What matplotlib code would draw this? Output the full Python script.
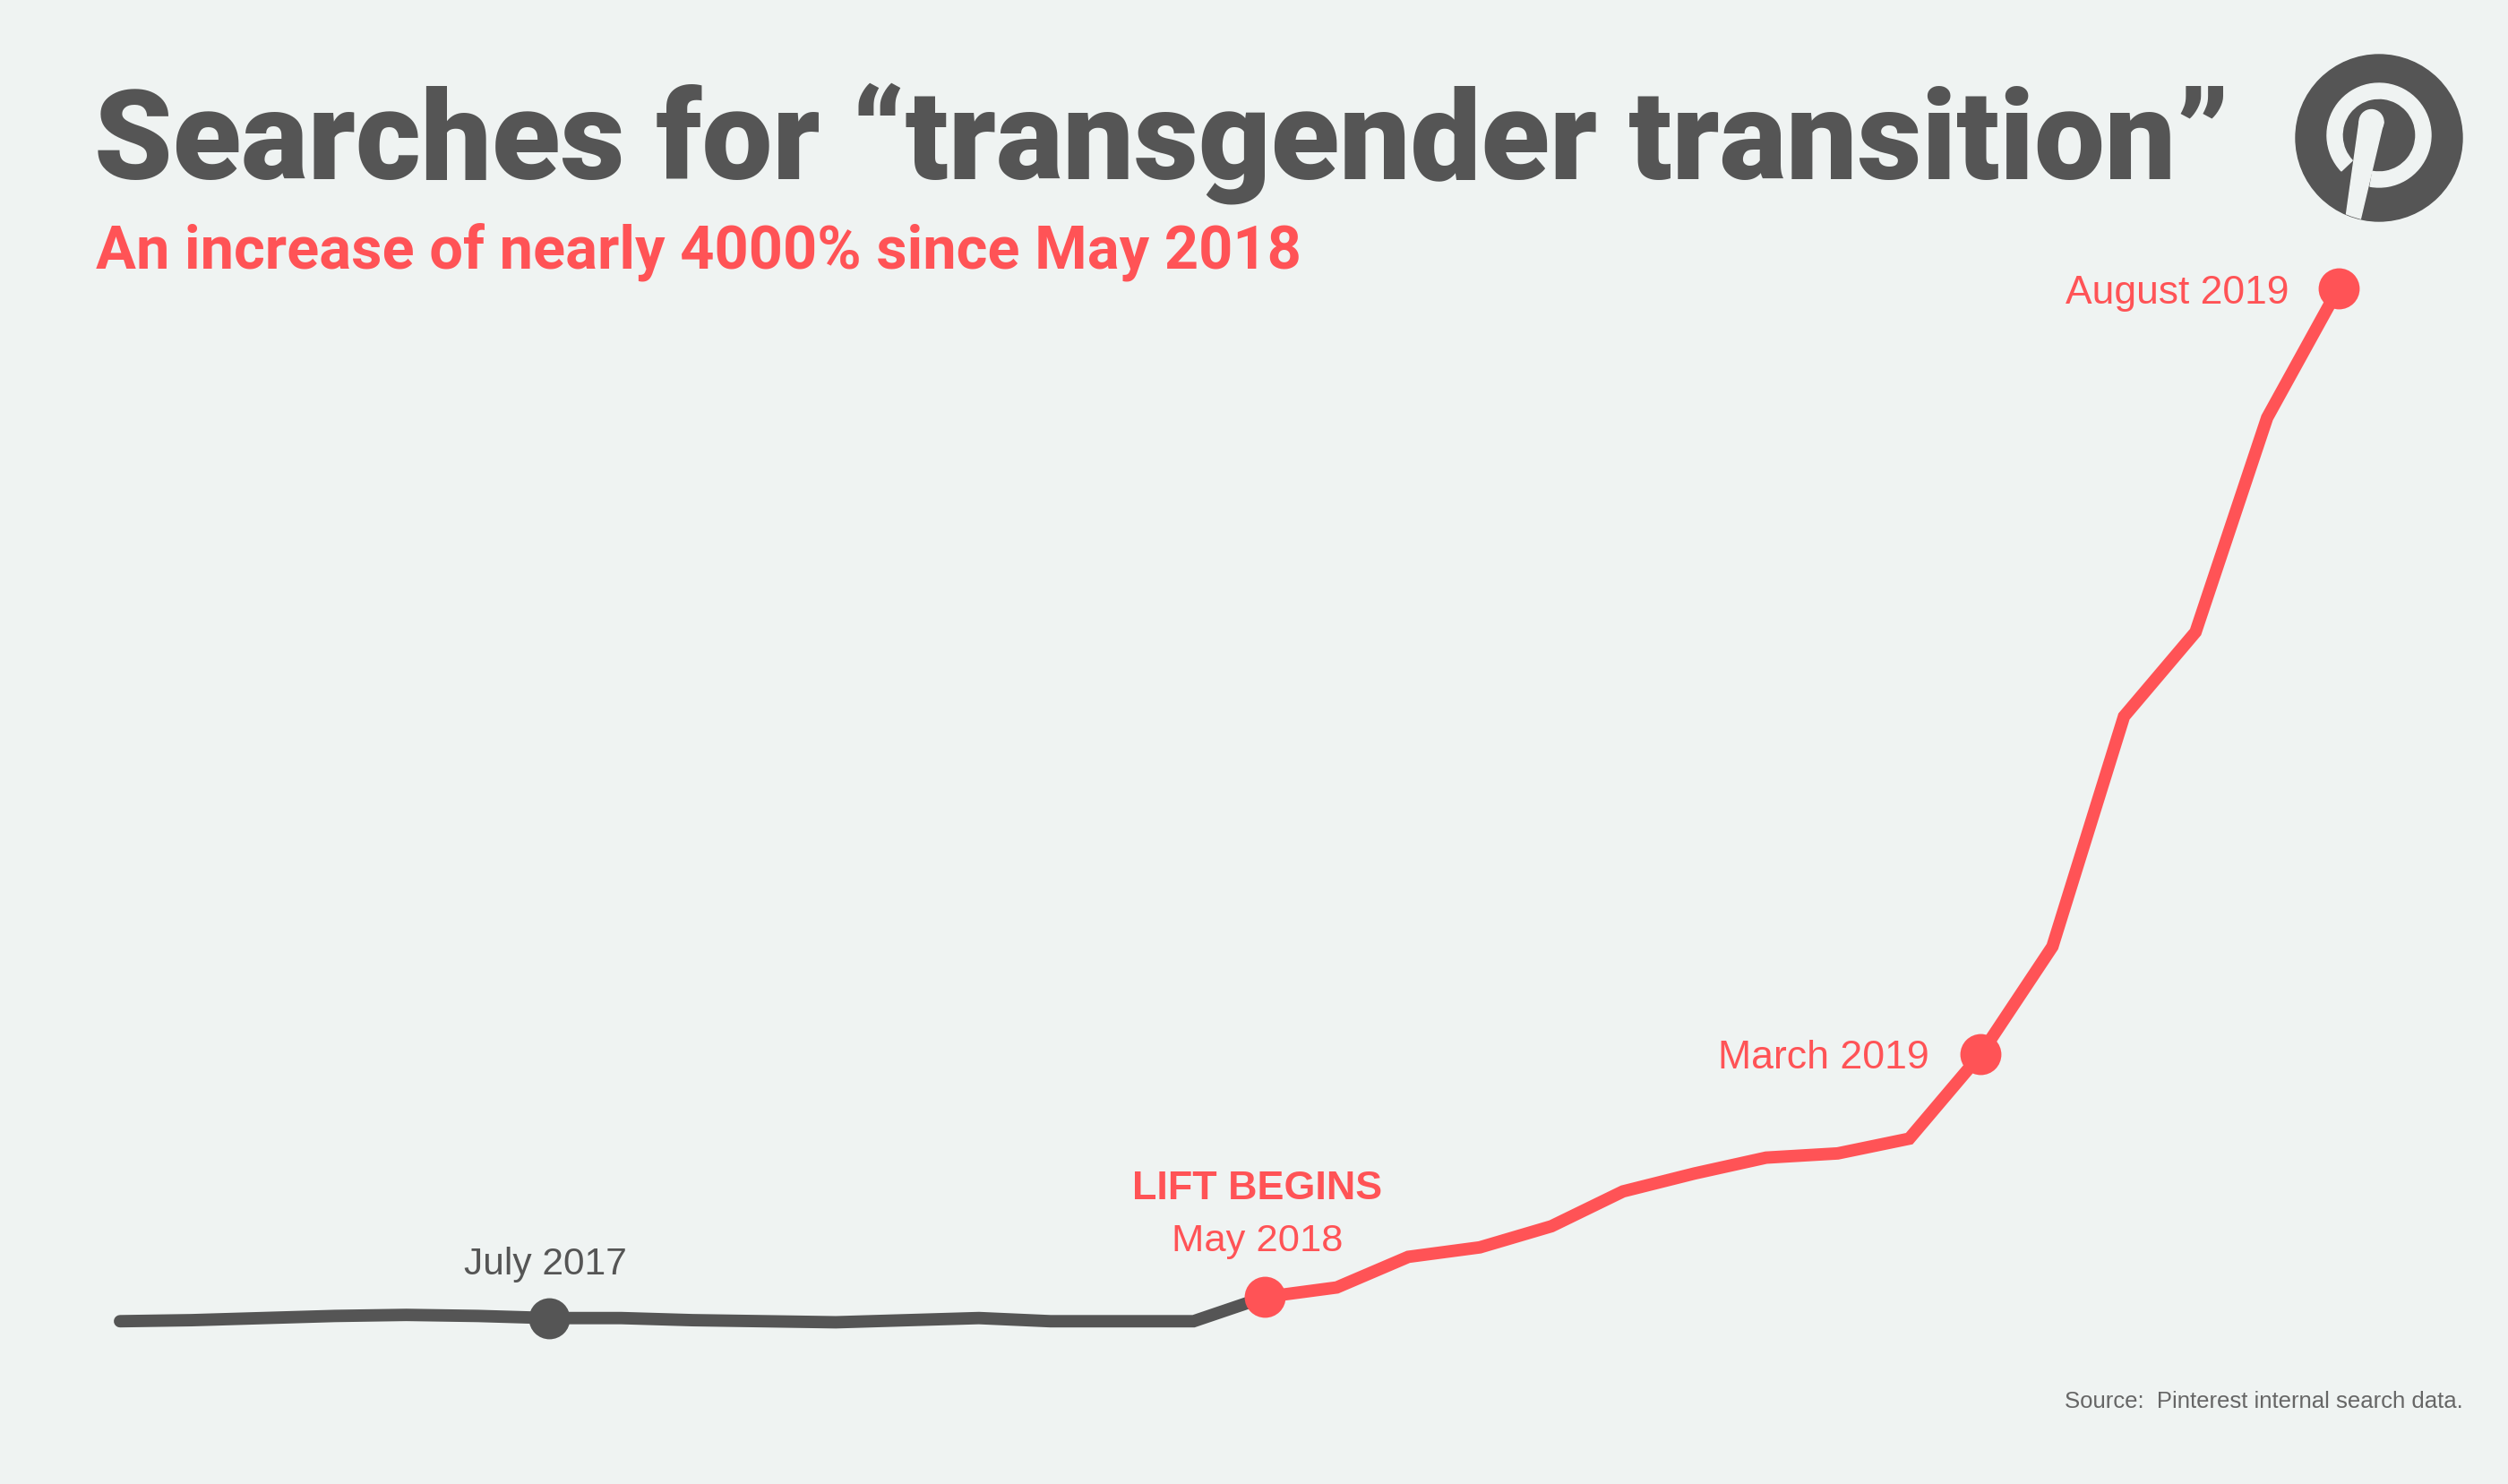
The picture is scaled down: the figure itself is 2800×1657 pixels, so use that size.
import matplotlib
matplotlib.use("Agg")
import matplotlib.pyplot as plt
from matplotlib.patches import Circle, Wedge, Polygon
import numpy as np
import pandas as pd

# monthly search index, Jan 2017 - Aug 2019 (Aug 2019 = 100)
months = pd.date_range("2017-01-01", "2019-08-01", freq="MS")
searches = [2.1, 2.2, 2.4, 2.6, 2.7, 2.6, 2.4, 2.4, 2.2, 2.1, 2.0, 2.2,
            2.4, 2.1, 2.1, 2.1,
            4.4, 5.3, 8.2, 9.1, 11.1, 14.4, 16.1, 17.6, 18.0, 19.4,
            27.4, 37.6, 59.4, 67.4, 87.7, 100.0]
lift_month = "2018-05"
marked = ["2017-07", "2018-05", "2019-03", "2019-08"]
marked_labels = ["July 2017", "May 2018", "March 2019", "August 2019"]

title = "Searches for \u201ctransgender transition\u201d"
subtitle = "An increase of nearly 4000% since May 2018"
source = "Source:  Pinterest internal search data."

BG = "#eff3f2"
GREY = "#555555"
RED = "#ff5356"

W, H = 2800, 1657
fig = plt.figure(figsize=(W / 100, H / 100), dpi=100)
fig.patch.set_facecolor(BG)

ax = fig.add_axes([0, 0, 1, 1])
ax.set_facecolor(BG)
ax.axis("off")

x = np.arange(len(months))
y = np.array(searches)
lift = months.get_loc(pd.Timestamp(lift_month))

ax.plot(x[:lift + 1], y[:lift + 1], color=GREY, lw=10,
        solid_capstyle="round", solid_joinstyle="miter", zorder=2)
ax.plot(x[lift:], y[lift:], color=RED, lw=10,
        solid_capstyle="round", solid_joinstyle="miter", zorder=3)

idx = [months.get_loc(pd.Timestamp(m)) for m in marked]
for i in idx:
    ax.plot(x[i], y[i], "o", ms=33, mec="none",
            color=GREY if i < lift else RED, zorder=4)

# place month 0 at px 134 and last month at px 2611, value 0 at px 1500, 100 at px 321
x0_px, x1_px = 134, 2611
sx = (x1_px - x0_px) / (len(months) - 1)
ax.set_xlim(-x0_px / sx, (W - x0_px) / sx)
v0_px, v100_px = 1500, 321.5
sy = (v0_px - v100_px) / 100
ax.set_ylim((v0_px - H) / sy, v0_px / sy)

# overlay in pixel coordinates for text and logo
ov = fig.add_axes([0, 0, 1, 1], facecolor="none")
ov.set_xlim(0, W)
ov.set_ylim(H, 0)
ov.axis("off")

renderer = fig.canvas.get_renderer()


def fit(t, width):
    w = t.get_window_extent(renderer).width
    t.set_fontsize(t.get_fontsize() * width / w)


t = ov.text(105, 200, title, fontsize=100, color=GREY, family="Roboto",
            fontweight="black", va="baseline")
fit(t, 2384)
t = ov.text(107, 300, subtitle, fontsize=40, color=RED, family="Roboto",
            fontweight="bold", va="baseline")
fit(t, 1343)

lab_font = "Liberation Sans"
t = ov.text(609, 1423, marked_labels[0], fontsize=34, color=GREY,
            family=lab_font, ha="center", va="baseline")
fit(t, 182)
t = ov.text(1404, 1339, "LIFT BEGINS", fontsize=34, color=RED,
            family=lab_font, fontweight="bold", ha="center", va="baseline")
fit(t, 279)
t = ov.text(1404, 1397, marked_labels[1], fontsize=34, color=RED,
            family=lab_font, ha="center", va="baseline")
fit(t, 191)
t = ov.text(2154, 1193, marked_labels[2], fontsize=34, color=RED,
            family=lab_font, ha="right", va="baseline")
fit(t, 236)
t = ov.text(2556, 339, marked_labels[3], fontsize=34, color=RED,
            family=lab_font, ha="right", va="baseline")
fit(t, 249)
t = ov.text(2750, 1572, source, fontsize=20, color="#666666",
            family=lab_font, ha="right", va="baseline")
fit(t, 444)

# pinterest logo
cx, cy = 2656, 154
disc = Circle((cx, cy), 93, color=GREY, zorder=5)
ov.add_patch(disc)
ov.add_patch(Wedge((cx, cy - 3), 58, -223.5, 100, width=17, color=BG, zorder=6))
stem = Polygon([(2634, 136), (2661, 136), (2634, 250), (2618, 250)],
               closed=True, color=BG, zorder=6)
ov.add_patch(stem)
stem.set_clip_path(disc)
ov.add_patch(Circle((2647.5, 136), 13.5, color=BG, zorder=6))

fig.savefig("out.png", dpi=100, facecolor=BG)
